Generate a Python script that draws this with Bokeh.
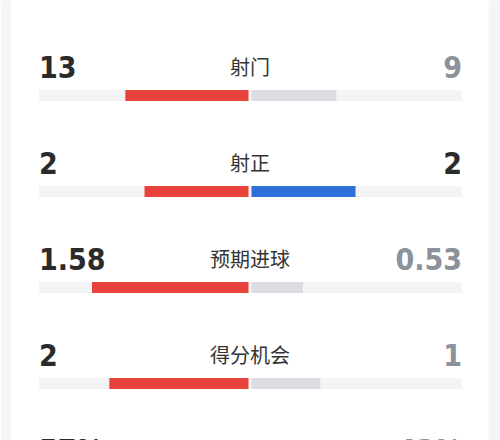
from bokeh.plotting import figure
from bokeh.models import Range1d, ColumnDataSource
from bokeh.core.properties import value
from bokeh.embed import file_html
from bokeh.resources import INLINE

# ---- data ----
labels = ["射门", "射正", "预期进球", "得分机会", "控球率"]
home_vals = [13, 2, 1.58, 2, 57]
away_vals = [9, 2, 0.53, 1, 43]
home_text = ["13", "2", "1.58", "2", "57%"]
away_text = ["9", "2", "0.53", "1", "43%"]

RED = "#e8433a"
BLUE = "#2f6fd8"
LIGHT = "#dcdce1"
TRACK = "#f4f4f6"
DARK = "#2b2b2b"
GREY_TXT = "#8c919b"

rows = list(range(len(labels)))
home_frac = [h / (h + a) for h, a in zip(home_vals, away_vals)]
away_frac = [a / (h + a) for h, a in zip(home_vals, away_vals)]
away_color = [BLUE if a >= h else LIGHT for h, a in zip(home_vals, away_vals)]
away_txt_color = [DARK if a >= h else GREY_TXT for h, a in zip(home_vals, away_vals)]
gap = 0.007

src = ColumnDataSource(dict(
    y=rows,
    hl=[-f for f in home_frac],
    hr=[-gap] * len(rows),
    al=[gap] * len(rows),
    ar=away_frac,
    acol=away_color,
    atcol=away_txt_color,
    label=labels,
    htxt=home_text,
    atxt=away_text,
    lx=[-1.0] * len(rows),
    rx=[1.005] * len(rows),
    cx=[0.0] * len(rows),
))

W, H = 500, 440
CX, CY0, SX, SY = 249.5, 95, 211, 96
p = figure(width=W, height=H, output_backend="svg", toolbar_location=None,
           x_range=Range1d(-CX / SX, (W - CX) / SX),
           y_range=Range1d((H - CY0) / SY, -CY0 / SY),
           min_border=0)
p.axis.visible = False
p.grid.visible = False
p.outline_line_color = None
p.background_fill_color = "white"
p.border_fill_color = "#f4f5f7"

# white card with light grey page edges
p.quad(left=[(11 - CX) / SX], right=[(488 - CX) / SX], top=[-2.0], bottom=[6.0],
       fill_color="white", line_color=None)
p.quad(left=[-CX / SX, (488 - CX) / SX], right=[(11 - CX) / SX, (W - CX) / SX],
       top=[-2.0, -2.0], bottom=[6.0, 6.0], fill_color="#f4f5f7", line_color=None)

bh = 11 / SY
p.hbar(y="y", left="lx", right="rx", height=bh, source=src, fill_color=TRACK, line_color=None)
p.hbar(y="y", left="hl", right="hr", height=bh, source=src, fill_color=RED, line_color=None)
p.hbar(y="y", left="al", right="ar", height=bh, source=src, fill_color="acol", line_color=None)

num_font = value("DejaVu Sans Condensed")
p.text(x="lx", y="y", text="htxt", source=src, text_font=num_font, text_font_size="30px",
       text_font_style="bold", text_color=DARK, text_align="left",
       text_baseline="middle", y_offset=-29)
p.text(x="rx", y="y", text="atxt", source=src, text_font=num_font, text_font_size="30px",
       text_font_style="bold", text_color="atcol", text_align="right",
       text_baseline="middle", y_offset=-29)
p.text(x="cx", y="y", text="label", source=src, text_font=value("Noto Sans CJK SC"),
       text_font_size="20px", text_color="#333333", text_align="center",
       text_baseline="middle", y_offset=-29)

open("out.html", "w").write(file_html(p, INLINE))
